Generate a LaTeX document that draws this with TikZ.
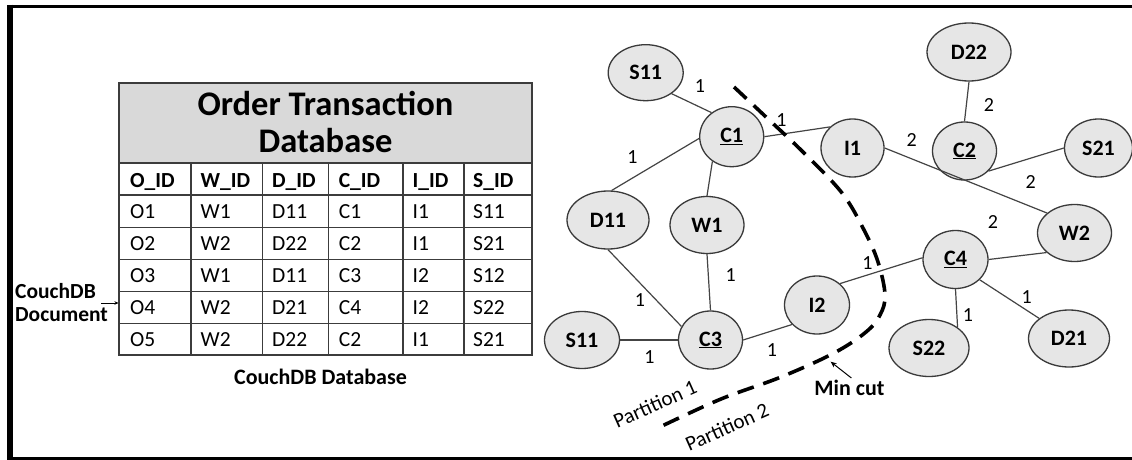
\documentclass[tikz,border=0pt]{standalone}
\usepackage{fontspec}
\setmainfont{Carlito}
\usetikzlibrary{shapes.geometric,arrows.meta}
\definecolor{nodefill}{HTML}{E6E6E6}
\definecolor{nodeline}{HTML}{3A3A3A}
\definecolor{edgecol}{HTML}{444444}
\definecolor{headfill}{HTML}{D9D9D9}
\definecolor{tabline}{HTML}{3C3C3C}
\begin{document}
\begin{tikzpicture}[x=1pt,y=-1pt,
  gnode/.style={ellipse,draw=nodeline,fill=nodefill,line width=1.3pt,inner sep=0pt,
    font=\fontsize{22}{22}\selectfont\bfseries},
  gedge/.style={draw=edgecol,line width=1.2pt},
  wlab/.style={inner sep=0pt,font=\fontsize{20}{20}\selectfont},
  cell/.style={anchor=base west,inner sep=0pt,font=\fontsize{21.5}{22}\selectfont},
  hcell/.style={cell,font=\fontsize{21.5}{22}\selectfont\bfseries},
  tline/.style={draw=tabline,line width=1.4pt},
  bold22/.style={inner sep=0pt,font=\fontsize{22}{22}\selectfont\bfseries},
  cutline/.style={draw=black,line width=3.6pt,dash pattern=on 17pt off 10pt},
  parti/.style={inner sep=0pt,rotate=24,font=\fontsize{21}{21}\selectfont},
]
\useasboundingbox (0,0) rectangle (1132,460);
% frame
\fill[white] (0,0) rectangle (1132,460);
\draw[black,line width=3.5pt] (7,6.5) -- (1132,6.5);
\draw[black,line width=6pt] (10,4.75) -- (10,460);
\draw[black,line width=3.5pt] (7,458.5) -- (1132,458.5);

% ---------- table ----------
\fill[headfill] (119,83) rectangle (532,163);
\foreach \yy in {163,195,227.7,259.3,291.7,323.3}{\draw[tline] (119,\yy) -- (532,\yy);}
\foreach \xx in {191,262.5,328.6,403,464}{\draw[tline] (\xx,163) -- (\xx,355);}
\draw[tline] (119,83) rectangle (532,355);
\node[anchor=base,inner sep=0pt,font=\fontsize{34.5}{35}\selectfont\bfseries] (title1) at (325.5,115) {Order Transaction};
\node[anchor=base,inner sep=0pt,font=\fontsize{34.5}{35}\selectfont\bfseries] (title2) at (325.5,152) {Database};
\node[hcell] (h1) at (130,187) {O\_ID};
\node[hcell] (h2) at (200.5,187) {W\_ID};
\node[hcell] (h3) at (272,187) {D\_ID};
\node[hcell] (h4) at (338.6,187) {C\_ID};
\node[hcell] (h5) at (412.5,187) {I\_ID};
\node[hcell] (h6) at (473,187) {S\_ID};
\foreach \rr/\yy/\va/\vb/\vc/\vd/\ve/\vf in {
  1/218.5/O1/W1/D11/C1/I1/S11,
  2/250.5/O2/W2/D22/C2/I1/S21,
  3/282.5/O3/W1/D11/C3/I2/S12,
  4/314.5/O4/W2/D21/C4/I2/S22,
  5/346/O5/W2/D22/C2/I1/S21}{
  \node[cell] (t\rr a) at (130,\yy) {\va};
  \node[cell] (t\rr b) at (200.5,\yy) {\vb};
  \node[cell] (t\rr c) at (272,\yy) {\vc};
  \node[cell] (t\rr d) at (338.6,\yy) {\vd};
  \node[cell] (t\rr e) at (412.5,\yy) {\ve};
  \node[cell] (t\rr f) at (473,\yy) {\vf};
}
\node[bold22,anchor=base] (dblabel) at (320.5,384) {CouchDB Database};
\node[anchor=base west,inner sep=0pt,font=\fontsize{21.5}{22}\selectfont\bfseries] (doc1) at (15,298) {CouchDB};
\node[anchor=base west,inner sep=0pt,font=\fontsize{21.5}{22}\selectfont\bfseries] (doc2) at (15,321) {Document};
\coordinate (docarr) at (101,303);
\coordinate (tabin) at (118.5,303);
\draw[black,line width=0.9pt,-{Stealth[length=4pt,width=3.5pt]}] (docarr) -- (tabin);

% ---------- graph nodes ----------
\node[gnode,minimum width=75,minimum height=56] (s11a) at (645.7,72.7) {S11};
\node[gnode,minimum width=64,minimum height=60] (c1) at (731.7,136.7) {\underline{C1}};
\node[gnode,minimum width=63,minimum height=58] (i1) at (852.5,148) {I1};
\node[gnode,minimum width=84,minimum height=58] (d22) at (969,52) {D22};
\node[gnode,minimum width=64,minimum height=58] (c2) at (964.5,151) {\underline{C2}};
\node[gnode,minimum width=68,minimum height=58] (s21) at (1098.5,148) {S21};
\node[gnode,minimum width=82,minimum height=58] (d11) at (608,220) {D11};
\node[gnode,minimum width=74,minimum height=57] (w1) at (707,225) {W1};
\node[gnode,minimum width=74,minimum height=57] (w2) at (1074.5,233) {W2};
\node[gnode,minimum width=65,minimum height=58] (c4) at (955.5,259.5) {\underline{C4}};
\node[gnode,minimum width=65,minimum height=58] (i2) at (817,305) {I2};
\node[gnode,minimum width=75,minimum height=57] (s11b) at (582,340) {S11};
\node[gnode,minimum width=64,minimum height=58] (c3) at (710.5,340) {\underline{C3}};
\node[gnode,minimum width=80,minimum height=57] (s22) at (929,348) {S22};
\node[gnode,minimum width=81,minimum height=57] (d21) at (1069,338.5) {D21};

% ---------- graph edges ----------
\draw[gedge] (s11a.-39) -- (c1.130);
\draw[gedge] (d11.83) -- (c1.183);
\draw[gedge] (c1.232) -- (w1.90);
\draw[gedge] (c1.east) -- (i1.137);
\draw[gedge] (i1.east) -- (w2.144);
\draw[gedge] (d22.south) -- (c2.north);
\draw[gedge] (c2.-40) -- (s21.west);
\draw[gedge] (d11.south) -- (c3.155);
\draw[gedge] (w1.south) -- (c3.north);
\draw[gedge] (s11b.east) -- (c3.west);
\draw[gedge] (c3.east) -- (i2.218);
\draw[gedge] (i2.43) -- (c4.177);
\draw[gedge] (c4.east) -- (w2.215);
\draw[gedge] (c4.south) -- (s22.36);
\draw[gedge] (c4.-40) -- (d21.146);

% ---------- edge weights ----------
\node[wlab] (wa) at (700,86) {1};
\node[wlab] (wb) at (781.5,120) {1};
\node[wlab] (wc) at (632.5,157) {1};
\node[wlab] (wd) at (989,105) {2};
\node[wlab] (we) at (911.7,140) {2};
\node[wlab] (wf) at (1030.6,182) {2};
\node[wlab] (wg) at (993,222) {2};
\node[wlab] (wh) at (730.6,275) {1};
\node[wlab] (wi) at (640,300) {1};
\node[wlab] (wj) at (649.4,356.7) {1};
\node[wlab] (wk) at (772,350) {1};
\node[wlab] (wl) at (867.5,262.7) {1};
\node[wlab] (wm) at (1026.8,296.7) {1};
\node[wlab] (wn) at (968,315) {1};

% ---------- min cut ----------
\draw[cutline] plot[smooth,tension=0.6] coordinates {(734,87) (766,117) (804,153) (842,193) (864,230) (878,262) (885,295) (880,315) (866,332) (834,353) (781,377) (721,399) (662,426)};
\node[bold22] (mincut) at (849.4,388) {Min cut};
\coordinate (mctip) at (830.6,361.7);
\draw[black,line width=1pt,-{Stealth[length=6pt,width=5pt]}] ([xshift=2pt,yshift=2pt]mincut.north) -- (mctip);
\node[parti] (p1) at (655,404) {Partition 1};
\node[parti] (p2) at (727,427) {Partition 2};
\end{tikzpicture}
\end{document}
